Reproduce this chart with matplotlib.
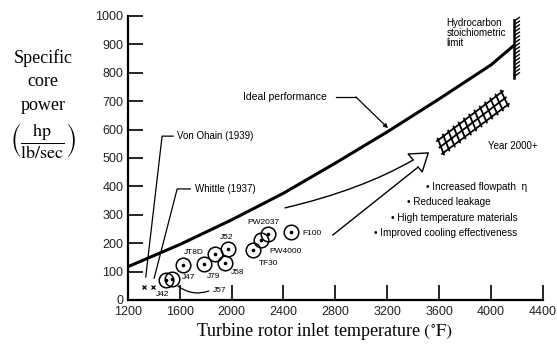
import numpy as np
import matplotlib
matplotlib.use("Agg")
import matplotlib.pyplot as plt
from matplotlib.path import Path
from matplotlib.patches import PathPatch

plt.rcParams['mathtext.fontset'] = 'stix'

# Ideal performance curve
curve_T = [1200, 1600, 2000, 2400, 2800, 3200, 3600, 4000, 4180]
curve_P = [117, 195, 282, 376, 482, 592, 708, 828, 898]

# Engines
engines = ["J42", "J47", "JT8D", "J79", "J52", "J58", "TF30", "PW4000", "PW2037", "F100", "J52b"]
eng_T = [1494, 1540, 1623, 1790, 1974, 1953, 2167, 2224, 2280, 2456, 1870]
eng_P = [70, 73, 123, 126, 180, 129, 176, 211, 231, 238, 161]
label_T = [1468, 1618, 1708, 1862, 1961, 2050, 2288, 2293, 2249, 2546, None]
label_P = [18, 80, 168, 84, 219, 96, 129, 170, 272, 235, None]

# Early engines
early_names = ["Von Ohain (1939)", "Whittle (1937)"]
early_T = [1326, 1393]
early_P = [46, 46]

limit_T = 4180
limit_lo, limit_hi = 782, 986

# Year 2000+ region corners
band_T = [3593, 3632, 4127, 4081]
band_P = [563, 518, 687, 732]

bullets = ["Increased flowpath  η", "Reduced leakage", "High temperature materials",
           "Improved cooling effectiveness"]
bullet_T = [3500, 3353, 3229, 3100]
bullet_P = [399, 344, 290, 237]

xticks = [1200, 1600, 2000, 2400, 2800, 3200, 3600, 4000, 4400]
yticks = list(range(0, 1001, 100))

fig = plt.figure(figsize=(5.57, 3.52), dpi=100)
ax = fig.add_axes([127.7/557, 52/352, (543-127.7)/557, (300-16)/352])
ax.set_xlim(1200, 4400)
ax.set_ylim(0, 1000)
for s in ['top', 'right']:
    ax.spines[s].set_visible(False)
for s in ['left', 'bottom']:
    ax.spines[s].set_linewidth(1.6)
ax.set_xticks(xticks)
ax.set_yticks(yticks)
ax.tick_params(direction='in', length=11, width=1.2, labelsize=9, pad=3)
ax.tick_params(axis='x', pad=4)
for lab in ax.get_xticklabels() + ax.get_yticklabels():
    lab.set_fontfamily('Liberation Sans')
    lab.set_color('#222222')

# ideal curve
ax.plot(curve_T, curve_P, color='black', lw=2.2, solid_capstyle='butt', clip_on=False)

# stoichiometric limit wall
ax.plot([limit_T, limit_T], [limit_lo, limit_hi], color='black', lw=1.8, clip_on=False)
for yy in np.arange(limit_lo + 6, limit_hi, 13):
    ax.plot([limit_T, limit_T + 38], [yy, yy + 12], color='black', lw=1.0, clip_on=False)

# engines
for i, name in enumerate(engines):
    ax.plot(eng_T[i], eng_P[i], marker='o', ms=10.5, mfc='none', mec='black', mew=1.1)
    ax.plot(eng_T[i], eng_P[i], marker='o', ms=1.6, color='black')
    if label_T[i] is not None:
        ha = 'left' if name in ("F100", "PW4000", "J47") else 'center'
        ax.text(label_T[i], label_P[i], name, fontsize=6, ha=ha, va='center',
                family='Liberation Sans')
# J57 label with leader
ax.text(1855, 35, "J57", fontsize=6, ha='left', va='center', family='Liberation Sans')
ax.annotate("", xy=(1845, 35), xytext=(1570, 55),
            arrowprops=dict(arrowstyle='-', lw=0.9, connectionstyle='arc3,rad=0.3'))

# early engines
ax.plot(early_T, early_P, linestyle='none', marker='x', ms=3, color='black', mew=0.9)
ax.plot([1339, 1465, 1550], [81, 577, 577], color='black', lw=0.9)
ax.text(1582, 577, early_names[0], fontsize=7, va='center', family='Liberation Sans')
ax.plot([1404, 1581, 1682], [77, 391, 391], color='black', lw=0.9)
ax.text(1721, 391, early_names[1], fontsize=7, va='center', family='Liberation Sans')

# ideal performance label
ax.text(2085, 715, "Ideal performance", fontsize=7.5, va='center', ha='left', family='Liberation Sans')
ax.annotate("", xy=(3206, 605), xytext=(2958, 715),
            arrowprops=dict(arrowstyle='-|>', lw=0.9, mutation_scale=6, color='black', shrinkA=0, shrinkB=0))
ax.plot([2805, 2958], [715, 715], color='black', lw=0.9)

# hollow arrow
up = Path([(2409, 324), (2997, 387), (3400, 493)], [Path.MOVETO, Path.CURVE3, Path.CURVE3])
ax.add_patch(PathPatch(up, fc='none', ec='black', lw=1.0))
ax.plot([2781, 3438], [229, 468], color='black', lw=1.0)
ax.plot([3400, 3361, 3516, 3469, 3438], [493, 514, 518, 451, 468], color='black', lw=1.0)

# year 2000+ cross-hatched band (grid drawn along the band)
A = np.array([band_T[0], band_P[0]], float)
B = np.array([band_T[1], band_P[1]], float)
C = np.array([band_T[2], band_P[2]], float)
D = np.array([band_T[3], band_P[3]], float)
ext = 0.12
for t in np.linspace(0, 1, 3):
    p0 = A + t * (B - A)
    p1 = D + t * (C - D)
    d = p1 - p0
    q0, q1 = p0 - 0.02 * d, p1 + 0.02 * d
    ax.plot([q0[0], q1[0]], [q0[1], q1[1]], color='black', lw=1.3)
for s in np.linspace(0, 1, 13):
    p0 = A + s * (D - A)
    p1 = B + s * (C - B)
    d = p1 - p0
    q0, q1 = p0 - ext * d, p1 + ext * d
    ax.plot([q0[0], q1[0]], [q0[1], q1[1]], color='black', lw=1.3)
ax.text(3978, 543, "Year 2000+", fontsize=7, va='center', family='Liberation Sans')

ax.text(3655, 993, "Hydrocarbon\nstoichiometric\nlimit", fontsize=7, va='top', ha='left',
        linespacing=1.0, family='Liberation Sans')

for t, p, s in zip(bullet_T, bullet_P, bullets):
    ax.text(t, p, "• " + s, fontsize=7.2, va='center', family='Liberation Sans')

# axis labels (serif)
fig.text(324/557, 1 - 331/352, r'Turbine rotor inlet temperature $\left(^{\circ}\mathrm{F}\right)$',
         fontsize=13, family='Liberation Serif', ha='center', va='center')
for txt, yy in zip(["Specific", "core", "power"], [58, 82, 105]):
    fig.text(43/557, 1 - yy/352, txt, fontsize=13, family='Liberation Serif', ha='center', va='center')
fig.text(43/557, 1 - 141/352, r'$\left(\dfrac{\mathrm{hp}}{\mathrm{lb/sec}}\right)$',
         fontsize=13, ha='center', va='center')

fig.savefig("out.png", dpi=100)
